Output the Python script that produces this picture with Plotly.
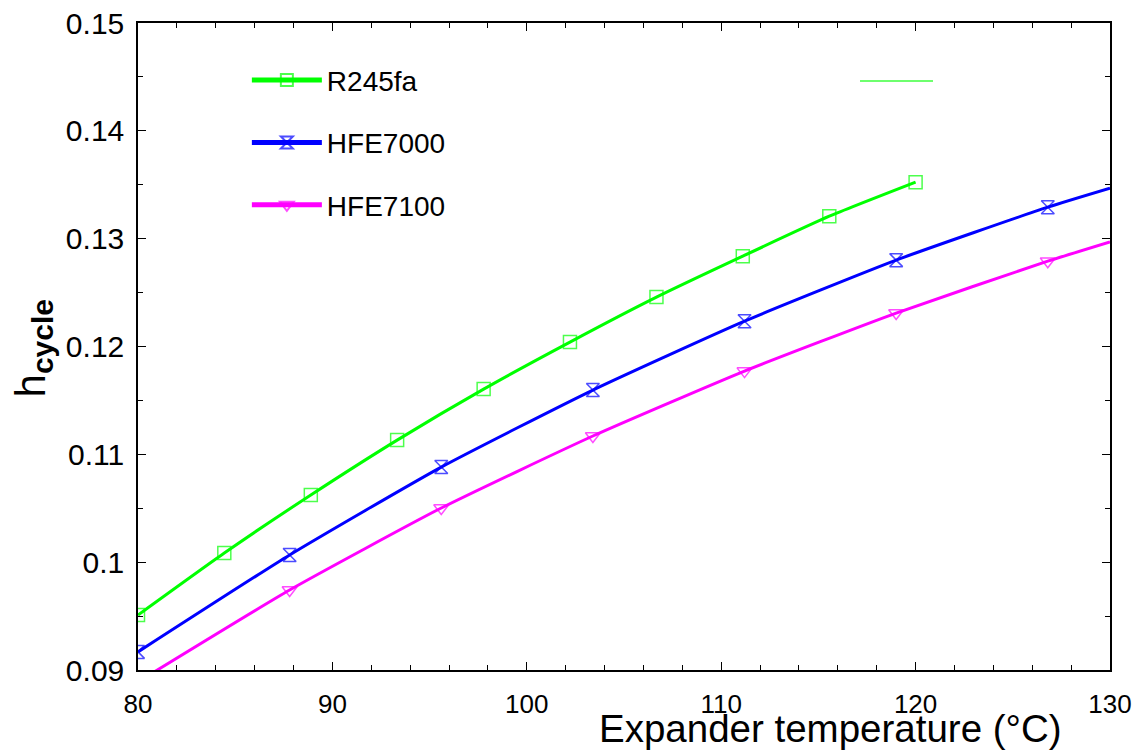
import plotly.graph_objects as go

# ---- data ----
r245fa_x = [80, 84.44, 88.89, 93.33, 97.78, 102.22, 106.67, 111.11, 115.56, 120]
r245fa_y = [0.0951, 0.10085, 0.10623, 0.11132, 0.11605, 0.12041, 0.12458, 0.12838, 0.13208, 0.13524]

hfe7000_x = [80, 87.8, 95.6, 103.4, 111.2, 119.0, 126.8, 130]
hfe7000_y = [0.09168, 0.10067, 0.10882, 0.11596, 0.12235, 0.12801, 0.13292, 0.13468]
hfe7000_marker = [True, True, True, True, True, True, True, False]

hfe7100_x = [80, 87.8, 95.6, 103.4, 111.2, 119.0, 126.8, 130]
hfe7100_y = [0.0889, 0.09742, 0.10502, 0.1117, 0.11772, 0.1231, 0.12791, 0.1297]
hfe7100_marker = [True, True, True, True, True, True, True, False]

x_ticks = [80, 90, 100, 110, 120, 130]
y_ticks = [0.09, 0.1, 0.11, 0.12, 0.13, 0.14, 0.15]
y_ticktext = ["0.09", "0.1", "0.11", "0.12", "0.13", "0.14", "0.15"]

FONT = "Liberation Sans, Arial, sans-serif"

fig = go.Figure()

def add_series(name, xs, ys, show, color, symbol):
    sizes = [13 if s else 0 for s in show]
    fig.add_trace(go.Scatter(
        x=xs, y=ys, name=name, mode="lines+markers",
        line=dict(color=color, width=3, shape="spline", smoothing=0.5),
        marker=dict(symbol=symbol, size=sizes, color=color,
                    line=dict(color=color, width=1.5)),
        legendgroup=name,
    ))

add_series("R245fa", r245fa_x, r245fa_y, [True] * len(r245fa_x), "#00FF00", "square-open")
add_series("HFE7000", hfe7000_x, hfe7000_y, hfe7000_marker, "#0000FF", "hourglass-open")
add_series("HFE7100", hfe7100_x, hfe7100_y, hfe7100_marker, "#FF00FF", "triangle-down-open")

axis_common = dict(
    showline=True, linecolor="black", linewidth=1.5, mirror="ticks",
    ticks="inside", tickcolor="black", tickwidth=1.2, ticklen=8,
    showgrid=False, zeroline=False, automargin=False,
    ticklabeloverflow="allow",
)

fig.update_xaxes(range=[80, 130], tickvals=x_ticks,
                 minor=dict(dtick=2, ticks="inside", ticklen=5, tickcolor="black", tickwidth=1.2),
                 ticklabelstandoff=10, tickfont=dict(family=FONT, size=26, color="black"),
                 **axis_common)
fig.update_yaxes(range=[0.09, 0.15], tickvals=y_ticks, ticktext=y_ticktext,
                 minor=dict(dtick=0.005, ticks="inside", ticklen=5, tickcolor="black", tickwidth=1.2),
                 ticklabelstandoff=6, tickfont=dict(family=FONT, size=30, color="black"),
                 **axis_common)

# page body adds an 8px offset; figure is sized so the plot area lands at x 138-1110, y 23-670
fig.update_layout(
    width=1139, height=748,
    margin=dict(l=130, r=37, t=15, b=86),
    paper_bgcolor="white", plot_bgcolor="white",
    font=dict(family=FONT, color="black"),
    showlegend=True,
    legend=dict(x=0.112, y=0.95, xanchor="left", yanchor="top",
                bgcolor="rgba(0,0,0,0)", font=dict(family=FONT, size=28),
                traceorder="grouped", tracegroupgap=23, itemwidth=70,
                itemsizing="constant"),
    annotations=[
        dict(text="Expander temperature (°C)", xref="paper", yref="paper",
             x=0.712, y=-0.091, xanchor="center", yanchor="middle", showarrow=False,
             font=dict(family=FONT, size=38.5, color="black")),
        dict(text="h<sub><span style='font-size:30px'><b>cycle</b></span></sub>",
             xref="paper", yref="paper",
             x=-0.108, y=0.497, xanchor="center", yanchor="middle", showarrow=False,
             textangle=-90, font=dict(family=FONT, size=42, color="black")),
    ],
    shapes=[
        dict(type="line", xref="paper", yref="paper",
             x0=(860 - 138) / 972, x1=(933 - 138) / 972,
             y0=(670 - 80.7) / 647.3, y1=(670 - 80.7) / 647.3,
             line=dict(color="rgb(110,255,110)", width=2)),
    ],
)

fig.write_html("out.html")
